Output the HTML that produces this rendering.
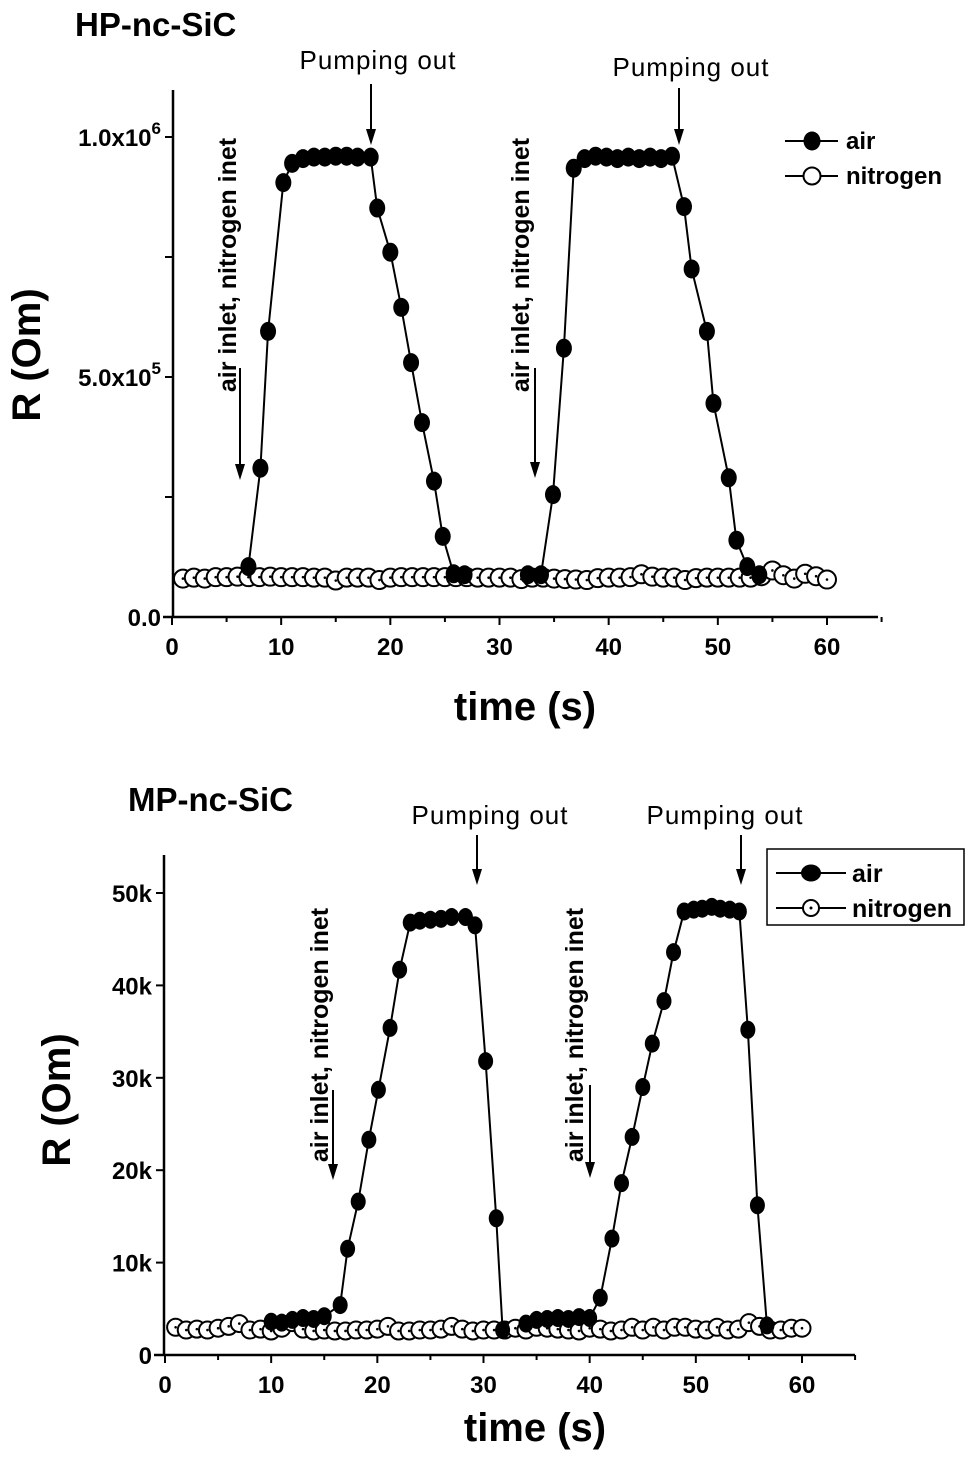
<!DOCTYPE html>
<html><head><meta charset="utf-8"><style>
html,body{margin:0;padding:0;background:#fff;}
svg{display:block;font-family:"Liberation Sans",Arial,sans-serif;}
</style></head><body>
<svg id="chart" width="969" height="1457" viewBox="0 0 969 1457" xmlns="http://www.w3.org/2000/svg">
<g id="topPanel"></g>
<g id="botPanel"></g>
</svg>
<script>
// ---- top panel data (HP-nc-SiC) ----
const topAirT = [7.0,8.1,8.8,10.2,11.0,12,13,14,15,16,17,18.2,18.8,20.0,21.0,21.9,22.9,24.0,24.8,25.8,26.8];
const topAirR = [0.105,0.31,0.595,0.905,0.945,0.955,0.958,0.958,0.96,0.96,0.958,0.958,0.852,0.76,0.645,0.53,0.405,0.283,0.168,0.09,0.088];
const topAir2T = [32.6,33.8,34.9,35.9,36.8,37.8,38.8,39.8,40.8,41.8,42.8,43.8,44.8,45.8,46.9,47.6,49.0,49.6,51.0,51.7,52.7,53.8];
const topAir2R = [0.088,0.088,0.255,0.56,0.935,0.955,0.96,0.958,0.955,0.958,0.955,0.958,0.955,0.96,0.855,0.725,0.595,0.445,0.29,0.16,0.105,0.088];
const topN2R = [0.08,0.082,0.08,0.083,0.083,0.084,0.083,0.083,0.084,0.083,0.083,0.083,0.082,0.082,0.076,0.082,0.082,0.082,0.077,0.082,0.083,0.083,0.083,0.083,0.083,0.083,0.083,0.082,0.082,0.082,0.082,0.079,0.082,0.082,0.08,0.079,0.078,0.077,0.081,0.082,0.082,0.083,0.089,0.084,0.082,0.082,0.077,0.081,0.082,0.082,0.082,0.082,0.082,0.085,0.097,0.087,0.08,0.09,0.085,0.078];
const topYTicks = [0,0.25,0.5,0.75,1.0];
const topYLabels = ["0.0","","5.0x10","","1.0x10"];
const topYSup = ["","","5","","6"];
// ---- bottom panel data (MP-nc-SiC) ----
const botAirT = [10,11,12,13,14,15,16.5,17.2,18.2,19.2,20.1,21.2,22.1,23.1,24,25,26,27,28.3,29.2,30.2,31.2,31.8];
const botAirR = [3.6,3.5,3.8,4.0,3.9,4.2,5.4,11.5,16.6,23.3,28.7,35.4,41.7,46.8,47.0,47.1,47.2,47.4,47.4,46.5,31.8,14.8,2.7];
const botAir2T = [34,35,36,37,38,39,40,41.0,42.1,43.0,44.0,45.0,45.9,47.0,47.9,48.9,49.8,50.6,51.5,52.3,53.2,54.1,54.9,55.8,56.7];
const botAir2R = [3.4,3.8,3.9,4.0,3.9,4.1,4.0,6.2,12.6,18.6,23.6,29.0,33.7,38.3,43.6,48.0,48.2,48.3,48.5,48.3,48.2,48.0,35.2,16.2,3.2];
const botN2R = [3.0,2.7,2.8,2.7,2.9,3.1,3.4,2.7,2.8,2.6,2.9,3.5,2.8,2.6,2.7,2.6,2.6,2.7,2.7,2.8,3.1,2.6,2.6,2.7,2.7,2.8,3.1,2.8,2.6,2.7,2.7,2.7,2.9,2.7,3.0,2.9,2.8,2.7,2.6,2.9,2.8,2.6,2.7,3.0,2.7,3.0,2.7,3.0,3.0,2.8,2.7,3.0,2.7,2.8,3.5,3.1,2.7,2.7,2.9,2.9];
const botYTicks = [0,10,20,30,40,50];
const botYLabels = ["0","10k","20k","30k","40k","50k"];
const xTicks = [0,10,20,30,40,50,60];

const NS="http://www.w3.org/2000/svg";
function mk(parent,tag,attrs,text){const e=document.createElementNS(NS,tag);for(const k in attrs)e.setAttribute(k,attrs[k]);if(text!==undefined)e.textContent=text;parent.appendChild(e);return e;}

function panel(g,cfg){
  const X=t=>cfg.x0+(t)*(cfg.x60-cfg.x0)/60;
  const Y=v=>cfg.y0+v*(cfg.yTop-cfg.y0)/cfg.yTopVal;
  let ax=mk(g,'line',{x1:cfg.axX,y1:cfg.axTop,x2:cfg.axX,y2:cfg.y0,stroke:'#000','stroke-width':2.5});
  
  
  ax=mk(g,'line',{x1:cfg.axX-10,y1:cfg.y0,x2:cfg.axEnd,y2:cfg.y0,stroke:'#000','stroke-width':2.5});
  
  
  for(let t=0;t<=65;t+=5){
    const tk=mk(g,'line',{x1:X(t),y1:cfg.y0,x2:X(t),y2:cfg.y0+(t%10?5:8),stroke:'#000','stroke-width':2});
    
    
  }
  xTicks.forEach(t=>{
    const l=mk(g,'text',{x:X(t),y:cfg.y0+38,'text-anchor':'middle','font-size':24,'font-weight':'bold'},String(t));
    
    
  });
  cfg.yTicks.forEach((v,i)=>{
    const tk=mk(g,'line',{x1:cfg.axX-8,y1:Y(v),x2:cfg.axX,y2:Y(v),stroke:'#000','stroke-width':2});
    
    
    if(cfg.yLabels[i]){
      const l=mk(g,'text',{x:cfg.axX-12,y:Y(v)+9,'text-anchor':'end','font-size':24,'font-weight':'bold'});
      
      
      if(cfg.ySup&&cfg.ySup[i]){ mk(l,'tspan',{},cfg.yLabels[i]); mk(l,'tspan',{dy:-12,'font-size':17},cfg.ySup[i]); }
      else l.textContent=cfg.yLabels[i];
    }
  });
  cfg.n2.forEach((v,i)=>{
    const c=mk(g,'circle',{cx:X(i+1),cy:Y(v),r:cfg.r,fill:'#fff',stroke:'#000','stroke-width':2});
    
    
    const d=mk(g,'circle',{cx:X(i+1),cy:Y(v),r:1.3,fill:'#000'});
    
    
  });
  [[cfg.airT,cfg.airR],[cfg.air2T,cfg.air2R]].forEach(([T,R])=>{
    const pts=T.map((t,i)=>X(t)+','+Y(R[i])).join(' ');
    const pl=mk(g,'polyline',{points:pts,fill:'none',stroke:'#000','stroke-width':2});
    
    
    T.forEach((t,i)=>{
      const c=mk(g,'ellipse',{cx:X(t),cy:Y(R[i]),rx:cfg.r-1,ry:cfg.r+0.5,fill:'#000'});
      
      
    });
  });
}

const topG=document.getElementById('topPanel'), botG=document.getElementById('botPanel');
panel(topG,{x0:172,x60:827,axX:173,axTop:90,axEnd:878,y0:617,yTop:137,yTopVal:1.0,r:9,
  yTicks:topYTicks,yLabels:topYLabels,ySup:topYSup,n2:topN2R,airT:topAirT,airR:topAirR,air2T:topAir2T,air2R:topAir2R});
panel(botG,{x0:165,x60:802,axX:164,axTop:855,axEnd:855,y0:1355,yTop:893,yTopVal:50,r:8.5,
  yTicks:botYTicks,yLabels:botYLabels,n2:botN2R,airT:botAirT,airR:botAirR,air2T:botAir2T,air2R:botAir2R});

function txt(parent,name,attrs,s){const t=mk(parent,'text',attrs,s);
  
  
  return t;}
function arrow(parent,x,y1,y2){
  const a=mk(parent,'line',{x1:x,y1:y1,x2:x,y2:y2-12,stroke:'#000','stroke-width':2});
  
  
  const h=mk(parent,'polygon',{points:`${x-5},${y2-16} ${x+5},${y2-16} ${x},${y2}`,fill:'#000'});
  
  
}
const pumpStyle={'font-size':26,'text-anchor':'middle','letter-spacing':'1'};
const rotStyle={'font-size':25,'font-weight':'bold','text-anchor':'middle'};

txt(topG,'panel-title',{x:75,y:36,'font-size':33,'font-weight':'bold'},'HP-nc-SiC');
txt(topG,'y-axis-title',{x:0,y:0,'font-size':40,'font-weight':'bold','text-anchor':'middle',transform:'translate(40,355) rotate(-90)'},'R (Om)');
txt(topG,'x-axis-title',{x:525,y:720,'font-size':40,'font-weight':'bold','text-anchor':'middle'},'time (s)');
txt(topG,'pumping-out-label',Object.assign({x:378,y:69},pumpStyle),'Pumping out');
txt(topG,'pumping-out-label',Object.assign({x:691,y:76},pumpStyle),'Pumping out');
arrow(topG,371,84,145);arrow(topG,679,88,145);
txt(topG,'inlet-label',Object.assign({x:0,y:0,transform:'translate(236,265) rotate(-90)'},rotStyle),'air inlet, nitrogen inet');
txt(topG,'inlet-label',Object.assign({x:0,y:0,transform:'translate(529,265) rotate(-90)'},rotStyle),'air inlet, nitrogen inet');
arrow(topG,240,368,480);arrow(topG,535,368,478);
let lg=mk(topG,'g',{});


mk(lg,'line',{x1:785,y1:141,x2:838,y2:141,stroke:'#000','stroke-width':2});
mk(lg,'ellipse',{cx:812,cy:141,rx:8.5,ry:9.5,fill:'#000'});
txt(lg,'legend-entry-air',{x:846,y:149,'font-size':24,'font-weight':'bold'},'air');
mk(lg,'line',{x1:785,y1:176,x2:838,y2:176,stroke:'#000','stroke-width':2});
mk(lg,'circle',{cx:812,cy:176,r:8.5,fill:'#fff',stroke:'#000','stroke-width':2});
txt(lg,'legend-entry-nitrogen',{x:846,y:184,'font-size':24,'font-weight':'bold'},'nitrogen');

txt(botG,'panel-title',{x:128,y:811,'font-size':33,'font-weight':'bold'},'MP-nc-SiC');
txt(botG,'y-axis-title',{x:0,y:0,'font-size':40,'font-weight':'bold','text-anchor':'middle',transform:'translate(70,1100) rotate(-90)'},'R (Om)');
txt(botG,'x-axis-title',{x:535,y:1441,'font-size':40,'font-weight':'bold','text-anchor':'middle'},'time (s)');
txt(botG,'pumping-out-label',Object.assign({x:490,y:824},pumpStyle),'Pumping out');
txt(botG,'pumping-out-label',Object.assign({x:725,y:824},pumpStyle),'Pumping out');
arrow(botG,477,835,885);arrow(botG,741,835,885);
txt(botG,'inlet-label',Object.assign({x:0,y:0,transform:'translate(328,1035) rotate(-90)'},rotStyle),'air inlet, nitrogen inet');
txt(botG,'inlet-label',Object.assign({x:0,y:0,transform:'translate(583,1035) rotate(-90)'},rotStyle),'air inlet, nitrogen inet');
arrow(botG,333,1090,1180);arrow(botG,590,1085,1178);
let lg2=mk(botG,'g',{});


mk(lg2,'rect',{x:767,y:849,width:197,height:76,fill:'#fff',stroke:'#000','stroke-width':1.5});
mk(lg2,'line',{x1:776,y1:873,x2:846,y2:873,stroke:'#000','stroke-width':2});
mk(lg2,'ellipse',{cx:811,cy:873,rx:10,ry:8.5,fill:'#000'});
txt(lg2,'legend-entry-air',{x:852,y:882,'font-size':25,'font-weight':'bold'},'air');
mk(lg2,'line',{x1:776,y1:908,x2:846,y2:908,stroke:'#000','stroke-width':2});
mk(lg2,'circle',{cx:811,cy:908,r:8,fill:'#fff',stroke:'#000','stroke-width':2});
mk(lg2,'circle',{cx:811,cy:908,r:1.5,fill:'#000'});
txt(lg2,'legend-entry-nitrogen',{x:852,y:917,'font-size':25,'font-weight':'bold'},'nitrogen');
</script>
</body></html>
